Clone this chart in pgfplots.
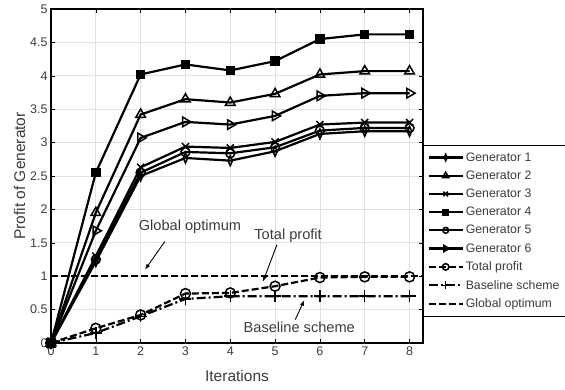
\documentclass[border=0pt]{standalone}
\usepackage{pgfplots}
\pgfplotsset{compat=1.18}
\usepackage{fontspec}
\setmainfont{Liberation Sans}
\definecolor{tickgray}{RGB}{60,60,60}
\definecolor{gridgray}{RGB}{225,225,225}
\begin{document}
\begin{tikzpicture}
\begin{axis}[
  scale only axis,
  width=372pt, height=334pt,
  xmin=0, xmax=8.3, ymin=0, ymax=5,
  xtick={0,1,...,8}, ytick={0,0.5,...,5},
  yticklabels={0,0.5,1,1.5,2,2.5,3,3.5,4,4.5,5},
  grid=major,
  major grid style={gridgray, line width=0.8pt},
  axis line style={black, line width=1.2pt},
  tick style={black, line width=0.6pt},
  tick align=inside,
  major tick length=4pt,
  /pgf/number format/assume math mode=true,
  ticklabel style={font=\fontsize{12.5}{14}\selectfont, text=tickgray},
  xlabel={Iterations}, ylabel={Profit of Generator},
  label style={font=\fontsize{15.5}{18}\selectfont, text=tickgray},
  xlabel style={yshift=-8pt},
  ylabel style={yshift=-2pt},
  legend style={at={(rel axis cs:1,0.593)}, anchor=north west,
    draw=black, line width=1.2pt, fill=white,
    font=\fontsize{12.3}{14}\selectfont, text=tickgray,
    row sep=4.1pt, inner xsep=4pt, inner ysep=5pt, legend cell align=left},
  legend image code/.code={\draw[line width=2.2pt, mark repeat=2, mark phase=2, #1, every mark/.append style={scale=0.65, line width=1.5pt}] plot coordinates {(0pt,0pt) (17pt,0pt) (34pt,0pt)};},
  every axis plot/.append style={black, line width=2.2pt, mark options={solid, line width=1.5pt}},
  clip=false,
]
% Generator 1
\addplot[mark=diamond, mark size=5pt, mark options={solid, xscale=0.6, line width=1.5pt}] coordinates {(0,0) (1,1.22) (2,2.50) (3,2.77) (4,2.73) (5,2.87) (6,3.13) (7,3.17) (8,3.17)};
\addlegendentry{Generator 1}
% Generator 2
\addplot[mark=triangle, mark size=5.5pt] coordinates {(0,0) (1,1.95) (2,3.42) (3,3.65) (4,3.60) (5,3.73) (6,4.02) (7,4.07) (8,4.07)};
\addlegendentry{Generator 2}
% Generator 3
\addplot[mark=x, mark size=5pt] coordinates {(0,0) (1,1.30) (2,2.63) (3,2.94) (4,2.92) (5,3.01) (6,3.27) (7,3.30) (8,3.30)};
\addlegendentry{Generator 3}
% Generator 4
\addplot[mark=square*, mark size=4pt] coordinates {(0,0) (1,2.55) (2,4.02) (3,4.17) (4,4.08) (5,4.22) (6,4.55) (7,4.62) (8,4.62)};
\addlegendentry{Generator 4}
% Generator 5
\addplot[mark=o, mark size=4.5pt] coordinates {(0,0) (1,1.25) (2,2.55) (3,2.86) (4,2.84) (5,2.93) (6,3.18) (7,3.22) (8,3.22)};
\addlegendentry{Generator 5}
% Generator 6
\addplot[mark=triangle, mark size=5.5pt, mark options={solid, rotate=-90, line width=1.5pt}] coordinates {(0,0) (1,1.68) (2,3.07) (3,3.31) (4,3.27) (5,3.40) (6,3.70) (7,3.74) (8,3.74)};
\addlegendentry{Generator 6}
% Total profit
\addplot[dash pattern=on 7pt off 3pt, mark=o, mark size=5pt] coordinates {(0,0) (1,0.22) (2,0.42) (3,0.74) (4,0.75) (5,0.85) (6,0.98) (7,0.99) (8,0.99)};
\addlegendentry{Total profit}
% Baseline scheme
\addplot[dash pattern=on 9pt off 3pt on 2pt off 3pt, mark=+, mark size=6pt] coordinates {(0,0) (1,0.15) (2,0.40) (3,0.66) (4,0.70) (5,0.70) (6,0.70) (7,0.70) (8,0.70)};
\addlegendentry{Baseline scheme}
% Global optimum
\addplot[dash pattern=on 7pt off 3pt, line width=2.4pt] coordinates {(0,1) (8.3,1)};
\addlegendentry{Global optimum}

\node[font=\fontsize{14.6}{17}\selectfont, text=tickgray] at (axis cs:3.1,1.74) {Global optimum};
\draw[-latex, line width=0.9pt] (axis cs:2.54,1.52) -- (axis cs:2.1,1.1);
\node[font=\fontsize{14.6}{17}\selectfont, text=tickgray] at (axis cs:5.29,1.61) {Total profit};
\draw[-latex, line width=0.9pt] (axis cs:5.04,1.47) -- (axis cs:4.73,0.92);
\node[font=\fontsize{14.6}{17}\selectfont, text=tickgray] at (axis cs:5.54,0.24) {Baseline scheme};
\draw[-latex, line width=0.9pt] (axis cs:5.45,0.35) -- (axis cs:5.65,0.64);
\end{axis}
\pgfresetboundingbox
\path[use as bounding box] (-51pt,-46pt) rectangle (514pt,343pt);
\end{tikzpicture}
\end{document}
